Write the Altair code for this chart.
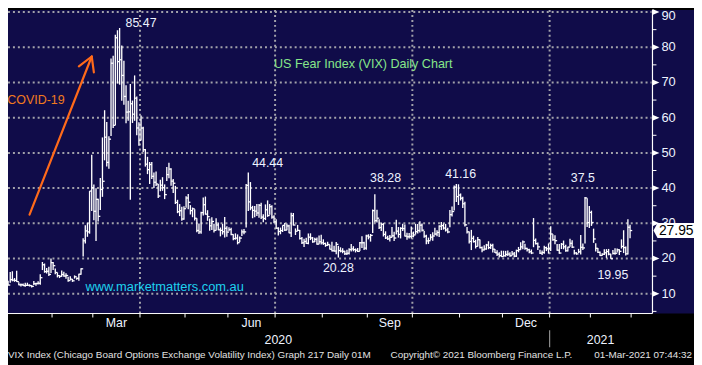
import altair as alt
import pandas as pd

# ---------------- data (VIX daily bars) ----------------
FIRST_DAY = "2020-01-02"
LAST_DAY = "2021-02-26"
HOLIDAYS = ["2020-01-20", "2020-02-17", "2020-04-10", "2020-05-25", "2020-07-03",
            "2020-09-07", "2020-11-26", "2020-12-25", "2021-01-01", "2021-01-18",
            "2021-02-15"]

HIGH = [
    # Jan 2020
    13.72, 16.20, 16.39, 14.46, 16.54, 13.27, 12.93, 12.93, 13.11, 13.14, 12.67, 12.45,
    13.61, 13.16, 13.56, 15.57, 19.02, 18.59, 17.34, 17.66, 19.99,
    # Feb
    19.01, 17.20, 16.03, 15.27, 16.59, 16.22, 15.79, 14.86, 14.94, 14.20, 15.22, 14.64,
    15.71, 17.21, 25.79, 29.48, 30.18, 39.16, 49.48,
    # Mar
    41.00, 39.93, 37.00, 42.84, 54.39, 62.12, 58.78, 54.75, 76.83, 77.57, 83.56, 84.83,
    85.47, 80.51, 76.18, 69.22, 64.83, 69.56, 64.86, 72.00, 66.00, 58.70,
    # Apr
    60.59, 57.39, 51.12, 48.89, 47.41, 47.45, 44.46, 44.74, 41.20, 42.37, 43.10, 41.06,
    45.99, 47.19, 45.63, 42.60, 40.64, 36.68, 35.47, 34.73, 34.87,
    # May
    37.67, 38.30, 35.17, 34.48, 33.99, 31.47, 29.98, 33.26, 37.31, 37.60, 33.73, 31.36,
    31.74, 29.87, 31.47, 30.23, 28.81, 29.87, 31.79, 29.14,
    # Jun
    28.91, 28.73, 26.88, 27.15, 26.86, 26.26, 28.28, 28.37, 41.20, 44.44, 41.72, 34.97,
    34.89, 35.46, 35.46, 35.84, 32.56, 35.37, 36.51, 35.52, 35.14, 32.26,
    # Jul
    31.19, 28.90, 28.79, 29.43, 30.08, 29.98, 29.57, 33.00, 32.96, 28.56, 29.54, 28.08,
    26.14, 25.63, 25.90, 27.12, 27.17, 26.13, 25.93, 25.95, 26.54, 26.75,
    # Aug
    25.47, 24.53, 24.77, 23.89, 24.78, 23.66, 24.67, 23.61, 23.19, 22.93, 22.21, 22.47,
    22.89, 24.14, 23.51, 22.87, 22.96, 24.69, 26.35, 24.77, 26.78,
    # Sep
    26.90, 26.97, 33.94, 38.28, 33.83, 31.16, 30.27, 30.07, 27.74, 26.44, 26.71, 28.99,
    27.63, 31.03, 28.94, 28.90, 29.91, 29.67, 27.33, 27.24, 29.12,
    # Oct
    27.66, 29.86, 29.78, 30.58, 29.93, 27.85, 26.76, 25.95, 26.94, 27.49, 28.78, 28.01,
    29.45, 30.40, 29.95, 29.84, 28.71, 33.82, 34.80, 40.77, 41.16, 41.09,
    # Nov
    38.48, 37.55, 36.14, 28.97, 27.68, 28.14, 26.47, 25.35, 26.12, 25.42, 23.42, 23.74,
    24.16, 24.91, 24.23, 24.19, 22.68, 22.33, 21.78, 22.24,
    # Dec
    22.21, 22.18, 22.27, 21.79, 22.13, 21.88, 22.53, 23.29, 24.66, 25.09, 24.20, 23.07,
    22.80, 22.58, 31.50, 25.68, 24.53, 22.50, 22.31, 23.62, 23.38, 24.28,
    # Jan 2021
    29.19, 26.87, 26.63, 24.10, 24.14, 24.41, 25.11, 23.89, 23.36, 25.63, 25.17, 22.50,
    21.82, 22.75, 26.69, 24.26, 37.51, 37.11, 34.90,
    # Feb 2021
    33.60, 28.49, 24.34, 23.03, 22.01, 21.48, 22.63, 22.68, 22.73, 21.36, 22.46, 22.90,
    22.82, 22.61, 25.44, 28.04, 23.42, 31.16, 29.60,
]

LOW = [
    # Jan 2020
    12.42, 13.13, 13.54, 13.39, 13.38, 12.39, 12.05, 12.18, 12.02, 12.20, 12.07, 11.75,
    12.46, 12.27, 12.63, 12.59, 16.73, 15.97, 15.72, 15.06, 15.89,
    # Feb
    16.72, 15.56, 14.64, 14.46, 14.84, 14.82, 14.28, 13.38, 13.84, 13.37, 14.29, 13.98,
    13.66, 15.40, 20.60, 24.26, 26.17, 27.06, 33.50,
    # Mar
    30.90, 25.00, 30.52, 33.76, 37.52, 47.89, 46.11, 45.52, 54.79, 57.07, 57.83, 69.71,
    69.37, 64.84, 63.66, 58.40, 59.10, 36.70, 58.50, 59.11, 55.00, 52.00,
    # Apr
    53.53, 50.23, 46.11, 43.97, 41.17, 42.62, 40.01, 40.58, 37.22, 39.12, 39.23, 36.88,
    42.03, 42.80, 40.67, 38.64, 35.49, 32.88, 32.05, 30.71, 31.04,
    # May
    34.43, 34.00, 32.50, 31.74, 30.77, 27.49, 26.99, 27.02, 32.20, 32.46, 30.72, 27.86,
    28.10, 27.38, 27.95, 28.03, 26.30, 26.81, 25.99, 26.21,
    # Jun
    27.75, 26.63, 25.19, 25.37, 24.02, 24.71, 26.40, 26.90, 28.82, 33.50, 33.72, 31.45,
    31.70, 32.10, 31.57, 31.25, 30.32, 30.92, 31.84, 32.45, 31.28, 30.02,
    # Jul
    28.49, 26.57, 26.90, 27.53, 27.84, 28.00, 27.19, 26.12, 29.38, 26.69, 27.80, 25.39,
    24.11, 23.30, 24.11, 24.05, 25.25, 24.48, 24.70, 23.93, 24.03, 24.02,
    # Aug
    23.88, 23.33, 23.55, 22.54, 22.03, 22.00, 21.25, 20.28, 21.75, 21.50, 20.99, 20.99,
    21.16, 22.02, 22.05, 21.73, 21.85, 22.12, 23.01, 22.44, 22.48,
    # Sep
    25.44, 24.81, 27.26, 30.20, 30.26, 28.42, 27.79, 26.26, 25.55, 25.28, 24.84, 25.98,
    24.95, 26.84, 25.94, 25.71, 27.83, 26.27, 25.37, 25.67, 25.72,
    # Oct
    26.05, 26.82, 27.11, 27.38, 27.71, 25.89, 24.03, 24.15, 25.30, 25.06, 26.60, 26.31,
    26.12, 28.11, 28.21, 27.66, 27.19, 28.88, 31.96, 33.67, 36.05, 35.20,
    # Nov
    36.49, 34.35, 29.12, 27.12, 24.30, 22.41, 24.54, 22.86, 23.39, 22.86, 21.82, 22.26,
    22.50, 22.65, 22.73, 21.71, 21.55, 20.70, 20.27, 20.47,
    # Dec
    20.54, 20.56, 20.75, 20.48, 20.90, 20.39, 20.45, 21.78, 22.49, 22.66, 22.52, 22.00,
    21.49, 21.26, 23.22, 23.97, 22.40, 21.29, 20.99, 21.38, 22.12, 21.40,
    # Jan 2021
    22.15, 25.08, 24.07, 22.21, 21.36, 22.70, 22.63, 21.95, 22.00, 23.32, 23.00, 21.14,
    21.07, 21.58, 21.18, 22.45, 24.28, 28.96, 28.64,
    # Feb 2021
    29.27, 24.46, 22.00, 21.55, 20.74, 20.78, 21.04, 20.19, 20.92, 19.95, 21.15, 21.05,
    21.72, 21.03, 22.83, 21.56, 20.88, 21.12, 25.75,
]

CLOSE = [
    # Jan 2020
    12.47, 14.02, 13.85, 13.79, 13.45, 12.54, 12.56, 12.32, 12.39, 12.42, 12.32, 12.10,
    12.85, 12.91, 12.98, 14.56, 18.23, 16.28, 16.39, 15.49, 18.84,
    # Feb
    17.97, 16.05, 15.15, 14.96, 15.47, 15.04, 15.18, 13.74, 14.15, 13.68, 14.83, 14.38,
    15.56, 17.08, 25.03, 27.85, 27.56, 39.16, 40.11,
    # Mar
    33.42, 36.82, 31.99, 39.62, 41.94, 54.46, 47.30, 53.90, 75.47, 57.83, 82.69, 75.91,
    76.45, 72.00, 66.04, 61.59, 61.67, 63.95, 61.00, 65.54, 57.08, 53.54,
    # Apr
    57.06, 50.91, 46.80, 45.24, 46.70, 43.35, 41.67, 41.17, 37.76, 40.84, 40.11, 38.15,
    43.83, 45.41, 41.98, 41.38, 35.93, 33.29, 33.57, 31.23, 34.15,
    # May
    37.19, 35.97, 33.61, 34.12, 31.44, 27.98, 27.57, 33.04, 35.28, 32.61, 31.89, 29.30,
    30.53, 27.99, 29.53, 28.16, 28.01, 27.62, 28.59, 27.51,
    # Jun
    28.23, 26.84, 25.66, 25.81, 24.52, 25.81, 27.57, 27.57, 40.79, 36.09, 34.40, 33.67,
    33.47, 32.94, 35.12, 31.77, 31.37, 33.84, 32.22, 34.73, 31.78, 30.43,
    # Jul
    28.62, 27.68, 27.94, 29.43, 28.08, 29.26, 27.29, 32.19, 29.52, 27.76, 28.00, 25.68,
    24.46, 24.84, 24.32, 26.08, 25.84, 24.74, 25.44, 24.10, 24.76, 24.46,
    # Aug
    24.28, 23.76, 23.99, 22.65, 22.21, 22.13, 24.03, 22.28, 22.13, 22.05, 21.35, 21.51,
    22.54, 22.72, 22.54, 22.37, 22.03, 24.47, 24.47, 22.96, 26.41,
    # Sep
    26.12, 26.57, 33.60, 30.75, 31.46, 28.81, 29.71, 26.87, 25.85, 25.59, 26.04, 26.46,
    25.83, 27.78, 26.86, 28.58, 28.51, 26.38, 26.19, 26.27, 26.37,
    # Oct
    26.70, 27.63, 27.96, 29.48, 28.06, 26.36, 25.00, 25.07, 26.07, 26.40, 26.97, 27.41,
    29.18, 29.35, 28.65, 28.11, 27.55, 32.46, 33.35, 40.28, 37.59, 38.02,
    # Nov
    37.13, 35.55, 29.57, 27.58, 24.86, 25.75, 24.80, 23.45, 25.35, 23.10, 22.45, 22.71,
    23.84, 23.11, 23.70, 22.66, 21.64, 21.25, 20.84, 20.57,
    # Dec
    20.77, 21.17, 21.28, 20.79, 21.30, 20.68, 22.27, 22.52, 23.31, 24.72, 22.89, 22.50,
    21.93, 21.57, 25.16, 24.23, 23.31, 21.53, 21.70, 23.08, 22.77, 22.75,
    # Jan 2021
    26.97, 25.34, 25.07, 22.37, 21.56, 24.08, 23.33, 22.21, 23.25, 24.34, 23.24, 21.58,
    21.32, 21.91, 23.19, 23.02, 37.21, 30.21, 33.09,
    # Feb 2021
    30.24, 25.56, 22.91, 21.77, 20.87, 21.24, 21.63, 21.99, 21.25, 19.97, 21.46, 21.50,
    22.49, 22.05, 23.45, 23.11, 21.34, 28.89, 27.95,
]

Y_TICKS = [10, 20, 30, 40, 50, 60, 70, 80, 90]
Y_MINOR = [5, 15, 25, 35, 45, 55, 65, 75, 85]
MONTH_LABELS = {"2020-03": "Mar", "2020-06": "Jun", "2020-09": "Sep", "2020-12": "Dec"}
GRID_MONTHS = ["2020-04", "2020-07", "2020-10", "2021-01"]
YEARS = ["2020", "2021"]

ANNOT_TEXT = ["85.47", "44.44", "38.28", "41.16", "37.5", "20.28", "19.95"]
ANNOT_DATE = ["2020-04-01", "2020-06-25", "2020-09-14", "2020-11-02", "2021-01-26",
              "2020-08-12", "2021-02-16"]
ANNOT_VALUE = [86.9, 47.05, 42.84, 43.97, 42.84, 17.3, 15.33]

TITLE_TEXT = "US Fear Index (VIX) Daily Chart"
TITLE_DATE, TITLE_VALUE = "2020-06-30", 75.1
COVID_TEXT = "COVID-19"
COVID_DATE, COVID_VALUE = "2020-01-22", 65.0
SITE_TEXT = "www.marketmatters.com.au"
SITE_DATE, SITE_VALUE = "2020-04-17", 11.96

# arrow: shaft start -> tip, tip -> wing ends
ARROW_FROM_DATE = ["2020-01-16", "2020-02-28", "2020-02-28"]
ARROW_FROM_VALUE = [32.46, 77.37, 77.37]
ARROW_TO_DATE = ["2020-02-28", "2020-02-20", "2020-03-02"]
ARROW_TO_VALUE = [77.37, 74.56, 72.88]

FOOTER_LEFT = "VIX Index (Chicago Board Options Exchange Volatility Index) Graph 217  Daily 01M"
FOOTER_MID = "Copyright\u00a9 2021 Bloomberg Finance L.P."
FOOTER_RIGHT = "01-Mar-2021 07:44:32"

# ---------------- build tables ----------------
days = pd.bdate_range(FIRST_DAY, LAST_DAY)
days = days[~days.isin(pd.to_datetime(HOLIDAYS))]
assert len(days) == len(CLOSE) == len(HIGH) == len(LOW)
n = len(days)
pos = {d.strftime("%Y-%m-%d"): i for i, d in enumerate(days)}
months = [d.strftime("%Y-%m") for d in days]

bars = pd.DataFrame({"i": range(n), "high": HIGH, "low": LOW, "close": CLOSE})

first_of_month = {}
for i, m in enumerate(months):
    first_of_month.setdefault(m, i)
bounds = [first_of_month[m] - 0.5 for m in first_of_month] + [n - 0.5]

X_MIN, X_MAX = -0.04, 300.0
Y_MIN, Y_MAX = 4.39, 90.56
W, H = 651, 307

xs = alt.Scale(domain=[X_MIN, X_MAX], nice=False, zero=False)
ys = alt.Scale(domain=[Y_MIN, Y_MAX], nice=False, zero=False)


def X(f):
    return alt.X(f, type="quantitative", scale=xs, axis=None)


def Y(f):
    return alt.Y(f, type="quantitative", scale=ys, axis=None)


one = alt.Data(values=[{"a": 1}])
FONT = "Liberation Sans"
NAVY = "#100c49"
GRID = "#a2a2aa"
LABEL = "#eef3ff"

bg = alt.Chart(one).mark_rect(color=NAVY).encode(
    x=alt.value(0), x2=alt.value(W + 43), y=alt.value(0), y2=alt.value(H))

grid_y = alt.Chart(pd.DataFrame({"v": Y_TICKS})).mark_rule(
    color=GRID, strokeWidth=2, strokeDash=[2, 3]).encode(
    y=Y("v"), x=alt.value(0), x2=alt.value(W))

grid_x = alt.Chart(pd.DataFrame({"i": [first_of_month[m] - 0.5 for m in GRID_MONTHS]})).mark_rule(
    color=GRID, strokeWidth=2, strokeDash=[2, 3]).encode(
    x=X("i"), y=alt.value(0), y2=alt.value(H))

hl = alt.Chart(bars).mark_rule(color="white", strokeWidth=1.35).encode(
    x=X("i"), y=Y("low"), y2=alt.Y2("high"))
cl = alt.Chart(bars).mark_tick(color="white", orient="horizontal", size=2.2,
                               thickness=1.3, xOffset=1.1, opacity=1).encode(
    x=X("i"), y=Y("close"))

annot = alt.Chart(pd.DataFrame({
    "i": [pos[d] for d in ANNOT_DATE], "v": ANNOT_VALUE, "t": ANNOT_TEXT})).mark_text(
    font=FONT, fontSize=12.5, color=LABEL, align="center", baseline="middle").encode(
    x=X("i"), y=Y("v"), text="t:N")

title = alt.Chart(pd.DataFrame({"i": [pos[TITLE_DATE]], "v": [TITLE_VALUE], "t": [TITLE_TEXT]})).mark_text(
    font=FONT, fontSize=12.7, color="#86e68a", align="left", baseline="middle").encode(
    x=X("i"), y=Y("v"), text="t:N")
covid = alt.Chart(pd.DataFrame({"i": [pos[COVID_DATE]], "v": [COVID_VALUE], "t": [COVID_TEXT]})).mark_text(
    font=FONT, fontSize=12.6, color="#f27a1e", align="center", baseline="middle").encode(
    x=X("i"), y=Y("v"), text="t:N")
site = alt.Chart(pd.DataFrame({"i": [pos[SITE_DATE]], "v": [SITE_VALUE], "t": [SITE_TEXT]})).mark_text(
    font=FONT, fontSize=13, color="#1ed2ee", align="center", baseline="middle").encode(
    x=X("i"), y=Y("v"), text="t:N")

arrow = alt.Chart(pd.DataFrame({
    "i": [pos[d] for d in ARROW_FROM_DATE], "v": ARROW_FROM_VALUE,
    "i2": [pos[d] for d in ARROW_TO_DATE], "v2": ARROW_TO_VALUE})).mark_rule(
    color="#ff6a1a", strokeWidth=2.2, strokeCap="round").encode(
    x=X("i"), y=Y("v"), x2=alt.X2("i2"), y2=alt.Y2("v2"))

# right-hand price axis
y_line = alt.Chart(one).mark_rule(color="white", strokeWidth=1.2).encode(
    x=alt.value(W + 1), y=alt.value(0), y2=alt.value(H))
y_minor = alt.Chart(pd.DataFrame({"v": Y_MINOR})).mark_rule(color="white", strokeWidth=1).encode(
    y=Y("v"), x=alt.value(W + 1), x2=alt.value(W + 5))
y_tri = alt.Chart(pd.DataFrame({"v": Y_TICKS})).mark_point(
    shape="M-1,-0.85L1,0L-1,0.85Z", filled=True, size=50, color="white", opacity=1,
    strokeWidth=0).encode(y=Y("v"), x=alt.value(W + 4.5))
ylab_df = pd.DataFrame({"v": Y_TICKS, "t": [str(v) for v in Y_TICKS]})
y_lab = alt.Chart(ylab_df[ylab_df.v < max(Y_TICKS)]).mark_text(
    font=FONT, fontSize=13, color=LABEL, align="left", baseline="middle").encode(
    y=Y("v"), x=alt.value(W + 10), text="t:N")
y_lab_top = alt.Chart(ylab_df[ylab_df.v == max(Y_TICKS)]).mark_text(
    font=FONT, fontSize=13, color=LABEL, align="left", baseline="middle", dy=4.5).encode(
    y=Y("v"), x=alt.value(W + 10), text="t:N")

last = pd.DataFrame({"v": [CLOSE[-1]], "t": [f"{CLOSE[-1]:.2f}"]})
price_box = alt.Chart(last).mark_point(
    shape="M-1,0L-0.8,-0.37L1,-0.37L1,0.37L-0.8,0.37Z", filled=True, size=1681,
    color="white", opacity=1, strokeWidth=0).encode(y=Y("v"), x=alt.value(W + 22.5))
price_txt = alt.Chart(last).mark_text(
    font=FONT, fontSize=14, color="black", align="center", baseline="middle").encode(
    y=Y("v"), x=alt.value(W + 25), text="t:N")

# bottom time axis
x_line = alt.Chart(one).mark_rule(color="white", strokeWidth=1).encode(
    x=alt.value(0), x2=alt.value(W + 1), y=alt.value(H))
x_ticks = alt.Chart(pd.DataFrame({"i": bounds})).mark_rule(color="white", strokeWidth=1).encode(
    x=X("i"), y=alt.value(H), y2=alt.value(H + 4))
mlab = pd.DataFrame({
    "i": [(first_of_month[m] + max(j for j, mm in enumerate(months) if mm == m)) / 2 for m in MONTH_LABELS],
    "t": list(MONTH_LABELS.values())})
x_mlab = alt.Chart(mlab).mark_text(
    font=FONT, fontSize=12.5, color=LABEL, align="center", baseline="middle").encode(
    x=X("i"), y=alt.value(H + 10), text="t:N")
y2020 = [i for i, d in enumerate(days) if d.year == 2020]
ylab = pd.DataFrame({"i": [sum(y2020) / len(y2020), (len(y2020) - 0.5 + X_MAX) / 2], "t": YEARS})
x_ylab = alt.Chart(ylab).mark_text(
    font=FONT, fontSize=12.5, color=LABEL, align="center", baseline="middle").encode(
    x=X("i"), y=alt.value(H + 27), text="t:N")
sep = alt.Chart(pd.DataFrame({"i": [len(y2020) - 0.5]})).mark_rule(color="#8d8d8d", strokeWidth=1.2).encode(
    x=X("i"), y=alt.value(H + 17), y2=alt.value(H + 34))

foot_l = alt.Chart(pd.DataFrame({"t": [FOOTER_LEFT]})).mark_text(
    font=FONT, fontSize=10, color="#e2e2e2", align="left", baseline="middle").encode(
    x=alt.value(0), y=alt.value(H + 42), text="t:N")
foot_m = alt.Chart(pd.DataFrame({"t": [FOOTER_MID]})).mark_text(
    font=FONT, fontSize=10, color="#e2e2e2", align="left", baseline="middle").encode(
    x=alt.value(387), y=alt.value(H + 42), text="t:N")
foot_r = alt.Chart(pd.DataFrame({"t": [FOOTER_RIGHT]})).mark_text(
    font=FONT, fontSize=10, color="#e2e2e2", align="right", baseline="middle").encode(
    x=alt.value(692), y=alt.value(H + 42), text="t:N")

chart = alt.layer(
    bg, grid_y, grid_x, hl, cl, annot, title, covid, site, arrow,
    y_line, y_minor, y_tri, y_lab, y_lab_top, price_box, price_txt,
    x_line, x_ticks, x_mlab, x_ylab, sep, foot_l, foot_m, foot_r,
).properties(
    width=W, height=H, background="#000000",
    padding={"left": 0, "top": 0, "right": 43, "bottom": 50},
    autosize=alt.AutoSizeParams(type="none"),
).configure_view(stroke=None)

chart.save("out.html", embed_options={"renderer": "svg", "actions": False})
